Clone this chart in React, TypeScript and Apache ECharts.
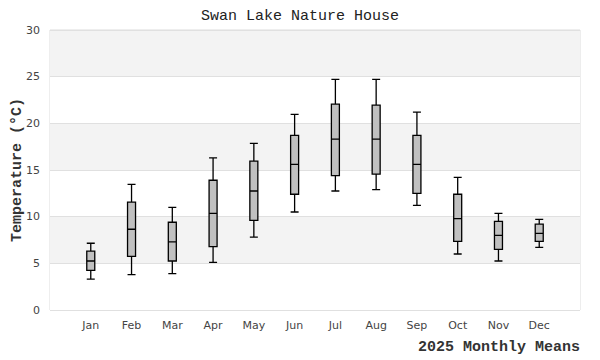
import React, { useEffect, useRef } from "react";
import * as echarts from "echarts";

const months = ["Jan", "Feb", "Mar", "Apr", "May", "Jun", "Jul", "Aug", "Sep", "Oct", "Nov", "Dec"];
const minVals = [3.3, 3.8, 3.9, 5.1, 7.8, 10.5, 12.75, 12.9, 11.2, 6.0, 5.25, 6.7];
const q1Vals = [4.25, 5.75, 5.25, 6.8, 9.6, 12.4, 14.4, 14.55, 12.5, 7.35, 6.5, 7.35];
const medVals = [5.25, 8.65, 7.3, 10.35, 12.75, 15.6, 18.3, 18.3, 15.6, 9.8, 8.0, 8.2];
const q3Vals = [6.3, 11.55, 9.4, 13.9, 15.95, 18.7, 22.05, 21.95, 18.7, 12.4, 9.5, 9.2];
const maxVals = [7.15, 13.45, 11.0, 16.3, 17.85, 20.95, 24.7, 24.7, 21.2, 14.2, 10.35, 9.7];
const yTicks = [0, 5, 10, 15, 20, 25, 30];

export default function App() {
  const ref = useRef<HTMLDivElement>(null);
  useEffect(() => {
    if (!ref.current) return;
    const chart = echarts.init(ref.current, null, { renderer: "svg" });
    const cats = ["", ...months, ""];
    const boxData: any[] = [
      "-",
      ...months.map((_, i) => [minVals[i], q1Vals[i], medVals[i], q3Vals[i], maxVals[i]]),
      "-",
    ];
    chart.setOption({
      animation: false,
      backgroundColor: "#fff",
      title: {
        text: "Swan Lake Nature House",
        left: "center",
        top: 4,
        textStyle: {
          fontFamily: "Liberation Mono",
          fontSize: 15,
          fontWeight: "normal",
          color: "#222",
        },
      },
      grid: {
        left: 50,
        right: 20,
        top: 30,
        bottom: 50,
        containLabel: false,
        outerBoundsMode: "none",
        show: true,
        borderColor: "#dcdcdc",
        borderWidth: 1,
        backgroundColor: "transparent",
      },
      xAxis: {
        type: "category",
        data: cats,
        boundaryGap: false,
        axisLine: { show: false },
        axisTick: { show: false },
        splitLine: { show: false },
        axisLabel: {
          interval: 0,
          color: "#444",
          fontFamily: "DejaVu Sans",
          fontSize: 11,
          margin: 10,
        },
        name: "2025 Monthly Means",
        nameLocation: "end",
        nameGap: 0,
        nameMoveOverlap: false,
        nameTextStyle: {
          align: "right",
          verticalAlign: "top",
          padding: [30, 0, 0, 0],
          fontFamily: "Liberation Mono",
          fontSize: 15,
          fontWeight: "bold",
          color: "#333",
        },
      },
      yAxis: {
        type: "value",
        min: yTicks[0],
        max: yTicks[yTicks.length - 1],
        interval: 5,
        axisLine: { show: false },
        axisTick: { show: false },
        axisLabel: {
          color: "#444",
          fontFamily: "DejaVu Sans",
          fontSize: 11,
          margin: 10,
        },
        splitLine: { show: true, lineStyle: { color: "#e0e0e0", width: 1 } },
        splitArea: { show: true, areaStyle: { color: ["#ffffff", "#f3f3f3"] } },
        name: "Temperature (°C)",
        nameLocation: "middle",
        nameGap: 25,
        nameMoveOverlap: false,
        nameRotate: 90,
        nameTextStyle: {
          fontFamily: "Liberation Mono",
          fontSize: 15,
          fontWeight: "bold",
          color: "#333",
        },
      },
      series: [
        {
          type: "boxplot",
          data: boxData,
          boxWidth: [8, 8],
          itemStyle: {
            color: "#c0c0c0",
            borderColor: "#000",
            borderWidth: 1.3,
          },
        },
      ],
    });
    return () => chart.dispose();
  }, []);
  return (
    <div
      ref={ref}
      style={{ position: "fixed", left: 0, top: 0, width: 600, height: 360 }}
    />
  );
}
